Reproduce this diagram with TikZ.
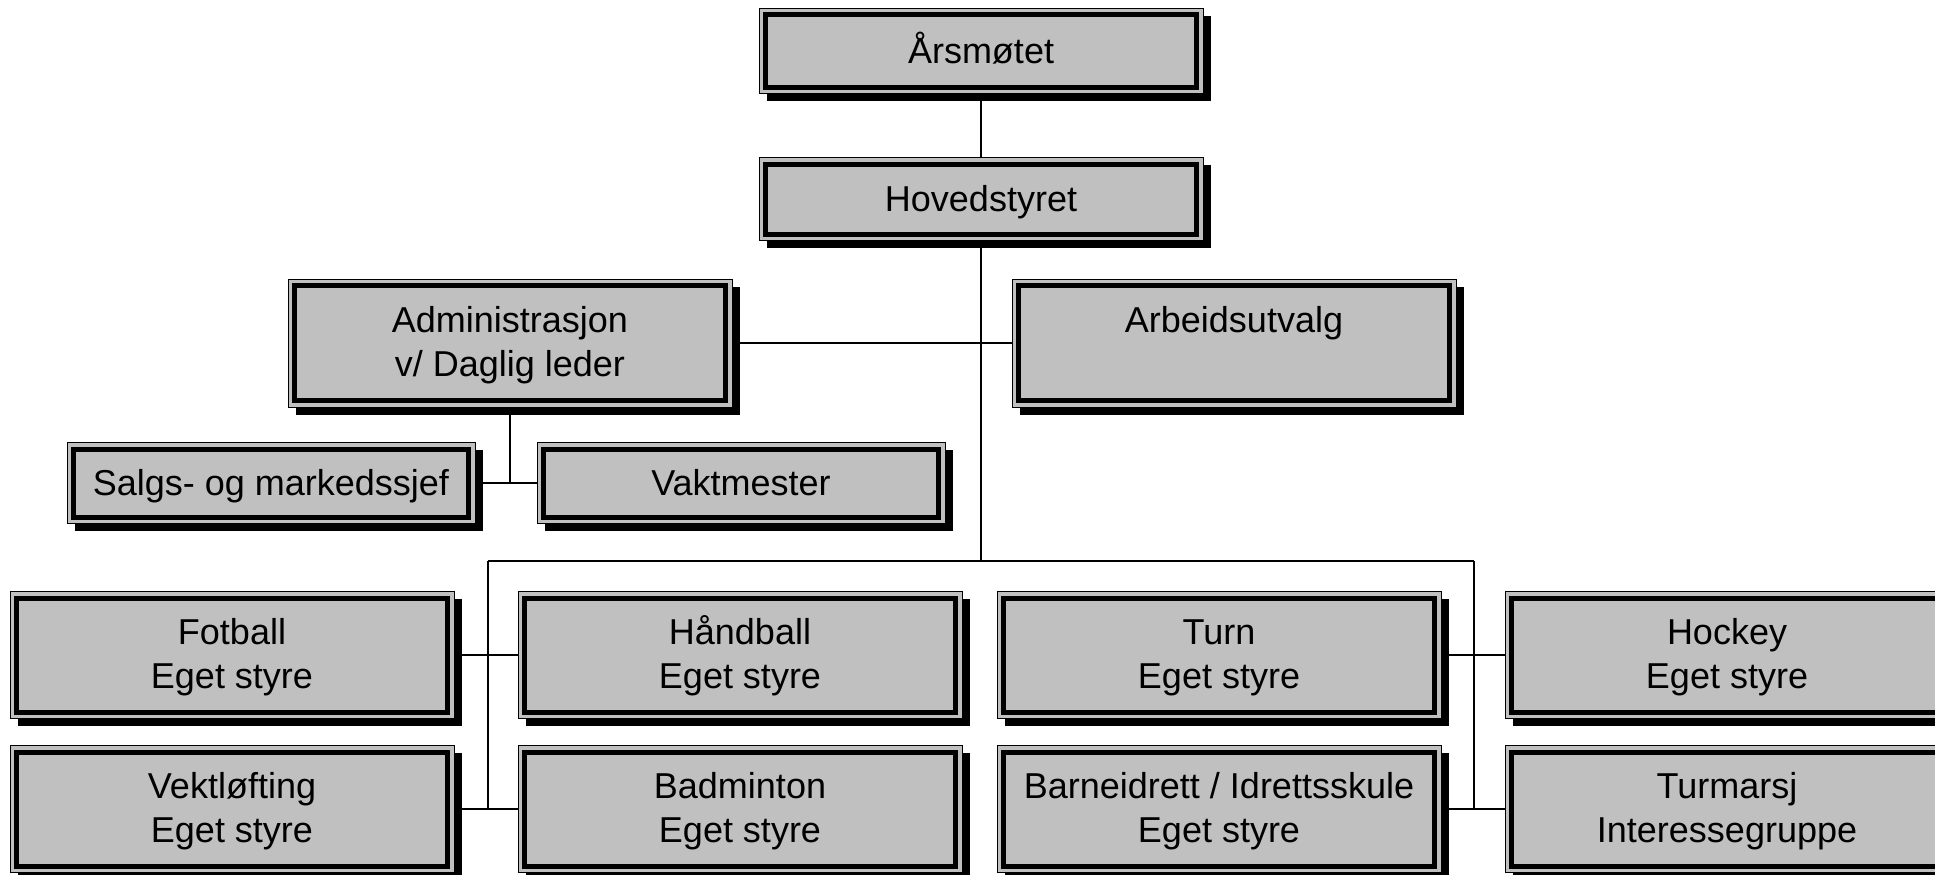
\documentclass[tikz,border=0pt]{standalone}
\usepackage{fontspec}
\setmainfont{Liberation Sans}
\usepackage{tikz}
\usetikzlibrary{shadows,calc}
\usepackage{xcolor}
\definecolor{boxgray}{RGB}{192,192,192}

\begin{document}
\begin{tikzpicture}[x=1pt, y=-1pt,
  unit/.style={rectangle, draw=black, line width=1pt, fill=boxgray, inner sep=0pt,
    minimum width=444pt, align=center, font=\fontsize{36}{44}\selectfont,
    text height=27pt, text depth=2pt,
    drop shadow={shadow xshift=7.5pt, shadow yshift=-7.5pt, fill=black, opacity=1},
    path picture={\draw[line width=5pt] ([shift={(6.5pt,6.5pt)}]path picture bounding box.south west) rectangle ([shift={(-6.5pt,-6.5pt)}]path picture bounding box.north east);}},
  twoline/.style={unit, minimum height=127pt, text height=71pt, text depth=5pt},
  link/.style={draw=black, line width=2pt}]

\useasboundingbox (0,0) rectangle (1935,875);

% ledelse
\node[unit, minimum height=85pt] (aars) at (981,51) {Årsmøtet};
\node[unit, minimum height=83pt] (hoved) at (981,199) {Hovedstyret};
\node[twoline, minimum height=128pt] (admin) at (510,343) {Administrasjon\\v/ Daglig leder};
\node[unit, minimum height=128pt, text depth=49pt] (arbeid) at (1234,343) {Arbeidsutvalg};
\node[unit, minimum width=408pt, minimum height=81pt] (salg) at (271,483) {Salgs- og markedssjef};
\node[unit, minimum width=408pt, minimum height=81pt] (vakt) at (741,483) {Vaktmester};

% grupper
\node[twoline] (fotball) at (232,655) {Fotball\\Eget styre};
\node[twoline] (haandball) at (740,655) {Håndball\\Eget styre};
\node[twoline] (turn) at (1219,655) {Turn\\Eget styre};
\node[twoline] (hockey) at (1727,655) {Hockey\\Eget styre};
\node[twoline] (vekt) at (232,809) {Vektløfting\\Eget styre};
\node[twoline] (badminton) at (740,809) {Badminton\\Eget styre};
\node[twoline] (barne) at (1219,809) {Barneidrett / Idrettsskule\\Eget styre};
\node[twoline] (turmarsj) at (1727,809) {Turmarsj\\Interessegruppe};

\coordinate (busl) at (488,561);
\coordinate (busr) at (1474,561);

\draw[link] (aars) -- (hoved);
\draw[link] (hoved.south) -- (hoved.south |- busl);
\draw[link] (admin) -- (arbeid);
\draw[link] (admin.south) -- (admin.south |- salg.east);
\draw[link] (salg) -- (vakt);
\draw[link] (busl) -- (busr);
\draw[link] (busl) -- (busl |- vekt.east);
\draw[link] (busr) -- (busr |- barne.east);
\draw[link] (fotball) -- (haandball);
\draw[link] (vekt) -- (badminton);
\draw[link] (turn) -- (hockey);
\draw[link] (barne) -- (turmarsj);

\end{tikzpicture}
\end{document}
